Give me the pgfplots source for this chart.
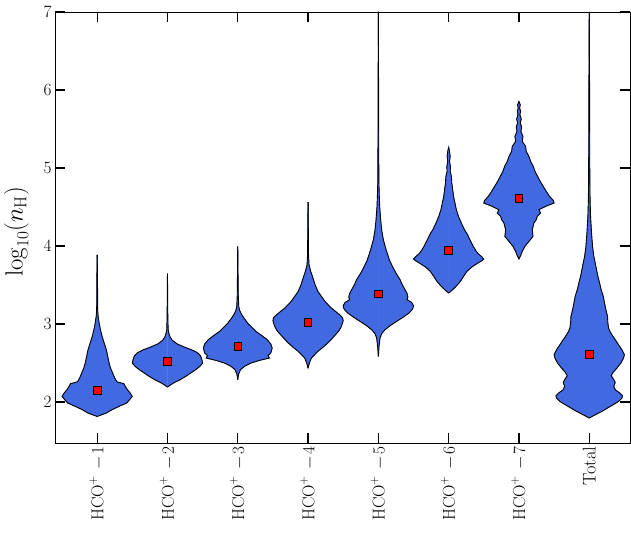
\documentclass[border=0pt]{standalone}
\usepackage{pgfplots}
\pgfplotsset{compat=1.18}
\usepackage{pgfplotstable}
\definecolor{vblue}{RGB}{65,105,225}

\pgfplotstableread{
y w
1.815 0
1.859 0.13
1.901 0.21
1.944 0.31
1.987 0.42
2.029 0.46
2.072 0.50
2.115 0.47
2.158 0.43
2.200 0.40
2.235 0.38
2.260 0.28
2.307 0.25
2.372 0.22
2.436 0.19
2.500 0.17
2.585 0.15
2.671 0.13
2.756 0.10
2.841 0.07
2.927 0.047
3.013 0.028
3.098 0.014
3.183 0.007
3.525 0.005
3.888 0
}\vA

\pgfplotstableread{
y w
2.192 0
2.222 0.047
2.251 0.10
2.286 0.18
2.329 0.26
2.372 0.33
2.414 0.40
2.457 0.46
2.500 0.50
2.542 0.49
2.594 0.47
2.636 0.42
2.671 0.34
2.705 0.24
2.744 0.14
2.790 0.07
2.833 0.038
2.885 0.019
2.927 0.01
3.098 0.005
3.645 0
}\vB

\pgfplotstableread{
y w
2.286 0
2.350 0.01
2.414 0.038
2.457 0.095
2.500 0.19
2.534 0.31
2.564 0.45
2.594 0.43
2.628 0.47
2.692 0.49
2.744 0.47
2.799 0.42
2.854 0.34
2.905 0.26
2.957 0.20
3.013 0.14
3.068 0.095
3.119 0.057
3.171 0.028
3.226 0.014
3.376 0.007
3.995 0
}\vC

\pgfplotstableread{
y w
2.436 0
2.500 0.019
2.564 0.047
2.649 0.14
2.700 0.21
2.756 0.28
2.812 0.34
2.863 0.39
2.914 0.44
2.969 0.474
3.013 0.49
3.045 0.50
3.080 0.49
3.110 0.46
3.140 0.42
3.170 0.38
3.205 0.33
3.290 0.24
3.354 0.19
3.418 0.14
3.504 0.10
3.590 0.07
3.675 0.038
3.760 0.014
3.888 0.007
4.564 0
}\vD

\pgfplotstableread{
y w
2.585 0
2.713 0.01
2.820 0.024
2.876 0.047
2.927 0.095
2.978 0.166
3.034 0.26
3.090 0.356
3.141 0.436
3.192 0.488
3.235 0.50
3.277 0.474
3.312 0.41
3.346 0.42
3.389 0.41
3.440 0.38
3.504 0.34
3.568 0.31
3.654 0.25
3.739 0.20
3.824 0.156
3.953 0.11
4.081 0.071
4.209 0.047
4.337 0.033
4.508 0.019
4.679 0.012
4.850 0.007
5.800 0.004
7.000 0
}\vE

\pgfplotstableread{
y w
3.397 0
3.440 0.057
3.482 0.104
3.546 0.166
3.611 0.213
3.675 0.26
3.731 0.33
3.773 0.40
3.808 0.465
3.833 0.50
3.867 0.465
3.901 0.42
3.944 0.385
3.995 0.35
4.059 0.315
4.123 0.28
4.145 0.27
4.209 0.225
4.295 0.18
4.380 0.14
4.465 0.11
4.551 0.09
4.636 0.07
4.722 0.058
4.808 0.045
4.892 0.04
4.957 0.022
5.020 0.026
5.085 0.013
5.149 0.022
5.213 0.013
5.269 0
}\vF

\pgfplotstableread{
y w
3.833 0
3.876 0.024
3.931 0.047
3.995 0.085
4.059 0.142
4.123 0.20
4.209 0.19
4.295 0.213
4.337 0.246
4.380 0.26
4.423 0.308
4.465 0.284
4.508 0.38
4.551 0.50
4.585 0.488
4.636 0.436
4.700 0.389
4.764 0.346
4.828 0.303
4.892 0.266
4.957 0.228
5.020 0.204
5.085 0.166
5.149 0.142
5.213 0.104
5.277 0.095
5.341 0.047
5.405 0.057
5.469 0.028
5.526 0.038
5.577 0.019
5.628 0.033
5.683 0.014
5.726 0.024
5.769 0.01
5.811 0.019
5.854 0
}\vG

\pgfplotstableread{
y w
1.795 0
1.837 0.085
1.880 0.18
1.923 0.26
1.965 0.34
2.008 0.417
2.051 0.465
2.081 0.474
2.115 0.436
2.158 0.37
2.200 0.35
2.251 0.37
2.286 0.35
2.337 0.313
2.380 0.34
2.436 0.394
2.500 0.45
2.564 0.488
2.607 0.50
2.671 0.465
2.735 0.417
2.799 0.37
2.863 0.322
2.905 0.294
2.949 0.275
3.013 0.265
3.098 0.26
3.183 0.237
3.269 0.218
3.354 0.20
3.440 0.17
3.526 0.147
3.632 0.118
3.739 0.095
3.867 0.066
3.995 0.047
4.167 0.033
4.380 0.019
4.594 0.012
5.000 0.008
6.000 0.005
7.000 0
}\vH

\newcommand{\violin}[2]{%
  \addplot[fill=vblue, draw=vblue, line width=0.4bp, forget plot] table[x expr={#1+\thisrow{w}}, y=y]{#2} -- cycle;
  \addplot[fill=vblue, draw=vblue, line width=0.4bp, forget plot] table[x expr={#1-\thisrow{w}}, y=y]{#2} -- cycle;
  \addplot[black, line width=0.9bp, forget plot] table[x expr={#1+\thisrow{w}}, y=y]{#2};
  \addplot[black, line width=0.9bp, forget plot] table[x expr={#1-\thisrow{w}}, y=y]{#2};
}
\newcommand{\hco}[1]{$\mathrm{HCO}^{+}\mkern6mu{-}\mkern2mu#1$}

\begin{document}
\begin{tikzpicture}
\begin{axis}[
  name=ax,
  scale only axis,
  width=575bp, height=431bp,
  xmin=-0.6, xmax=7.58,
  ymin=1.475, ymax=7,
  xtick={0,1,2,3,4,5,6,7},
  xticklabels={\hco{1},\hco{2},\hco{3},\hco{4},\hco{5},\hco{6},\hco{7},Total},
  ytick={2,3,4,5,6,7},
  minor tick num=0,
  tick align=inside,
  major tick length=10bp,
  every tick/.style={black, line width=1.3bp},
  axis line style={black, line width=0.8bp},
  xticklabel style={rotate=90, anchor=east, font=\fontsize{18.5}{21}\selectfont},
  yticklabel style={font=\fontsize{17.5}{20}\selectfont},
  ylabel={$\log_{10}(n_\mathrm{H})$},
  ylabel style={font=\fontsize{25}{28}\selectfont, at={(axis description cs:-0.067,0.49)}, anchor=center},
  clip=false,
]
\violin{0}{\vA}
\violin{1}{\vB}
\violin{2}{\vC}
\violin{3}{\vD}
\violin{4}{\vE}
\violin{5}{\vF}
\violin{6}{\vG}
\violin{7}{\vH}
\addplot[only marks, mark=square*, mark size=3.8bp, mark options={fill=red, draw=black, line width=0.8bp}]
  coordinates {(0,2.15) (1,2.52) (2,2.71) (3,3.02) (4,3.385) (5,3.945) (6,4.607) (7,2.607)};
\end{axis}
\pgfresetboundingbox
\path[use as bounding box] ([xshift=-55bp,yshift=-92bp]ax.south west) rectangle ([xshift=1bp,yshift=12bp]ax.north east);
\end{tikzpicture}
\end{document}
